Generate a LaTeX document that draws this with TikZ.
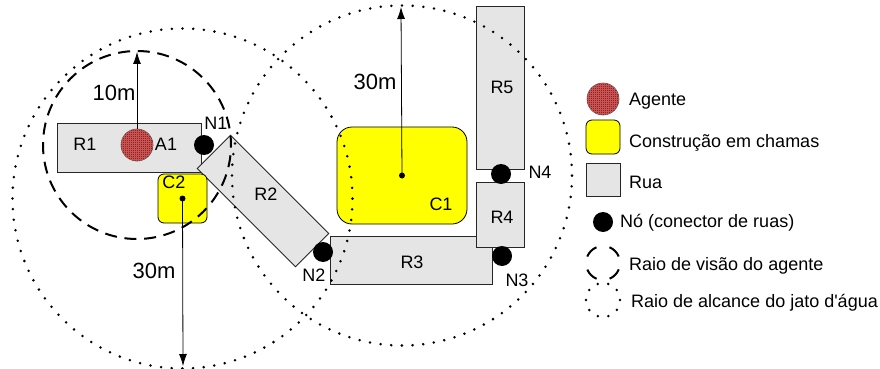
\documentclass[tikz,border=0pt]{standalone}
\usepackage{fontspec}
\setmainfont{Liberation Sans}
\usetikzlibrary{arrows.meta,patterns.meta}
\definecolor{roadgray}{RGB}{229,229,229}
\definecolor{fireyellow}{RGB}{255,255,0}
\definecolor{agentred}{RGB}{155,30,30}
\definecolor{agentgrid}{RGB}{195,85,85}
\begin{document}
\begin{tikzpicture}[x=1pt,y=-1pt,
 road/.style={draw=black!85, fill=roadgray, line width=0.8pt, rectangle, inner sep=0pt},
 fire/.style={draw=black, fill=fireyellow, line width=0.8pt, rectangle, rounded corners=#1, inner sep=0pt},
 fire/.default=6pt,
 junction/.style={circle, fill=black, inner sep=0pt, minimum size=20pt},
 agent/.style={circle, draw=black!70, line width=0.6pt, fill=agentred, postaction={pattern={Hatch[angle=0, distance=2pt, line width=0.4pt]}, pattern color=agentgrid}, minimum size=32pt, inner sep=0pt},
 lbl/.style={font=\fontsize{18}{20}\selectfont, inner sep=0pt, text height=12.9pt, text depth=0pt},
 dist/.style={font=\fontsize{22}{24}\selectfont, inner sep=0pt, text height=15.75pt, text depth=0pt},
 jetrange/.style={line width=2.8pt, dash pattern=on 0pt off 10.681pt, line cap=round},
 vision/.style={line width=2pt, dash pattern=on 12pt off 7.7pt},
 radiusarrow/.style={line width=0.8pt, -{Latex[length=12pt,width=8pt]}},
 centredot/.style={circle, fill=black, inner sep=0pt, minimum size=6pt}
]
\useasboundingbox (0,0) rectangle (880,369);

% roads
\node[road, minimum width=144pt, minimum height=49pt] (R1) at (129,147.5) {};
\node[road, minimum width=139pt, minimum height=47pt, rotate=-45] (R2) at (263,201) {};
\node[road, minimum width=162pt, minimum height=48pt] (R3) at (411,260) {};
\node[road, minimum width=48pt, minimum height=65pt] (R4) at (500,214.5) {};
\node[road, minimum width=48pt, minimum height=163pt] (R5) at (500,87.5) {};

% buildings on fire
\node[fire, minimum width=49pt, minimum height=49pt] (C2) at (182.5,198.5) {};
\node[fire=15pt, minimum width=130pt, minimum height=97pt] (C1) at (402,175.5) {};

% agent
\node[agent] (A1) at (137,145) {};

% junctions
\node[junction] (N1) at (204,145) {};
\node[junction] (N2) at (323,252) {};
\node[junction] (N3) at (502,256) {};
\node[junction] (N4) at (501,174) {};

% labels
\node[lbl] (lR1) at (85,144) {R1};
\node[lbl] (lA1) at (166,144) {A1};
\node[lbl] (lR2) at (266,194) {R2};
\node[lbl] (lR3) at (412,262) {R3};
\node[lbl] (lR4) at (502,217) {R4};
\node[lbl] (lR5) at (502,87) {R5};
\node[lbl] (lC1) at (441,204) {C1};
\node[lbl] (lC2) at (174,182) {C2};
\node[lbl] (lN1) at (216,123) {N1};
\node[lbl] (lN2) at (314,275) {N2};
\node[lbl] (lN3) at (517,280) {N3};
\node[lbl] (lN4) at (540,172) {N4};

% radius circles
\draw[vision, dash phase=3pt] (A1) circle[radius=94pt];
\draw[jetrange] (C2) circle[radius=170pt];
\draw[jetrange] (C1) circle[radius=170pt];

% radius arrows
\node[centredot] (c1dot) at (C1) {};
\node[centredot] (c2dot) at (C2) {};
\coordinate (visTop) at (137,52);
\coordinate (c1Top) at (401,7);
\coordinate (c2Bottom) at (183,366);
\draw[radiusarrow] (A1.north) -- (visTop);
\draw[radiusarrow] (c1dot.center) -- (c1Top);
\draw[radiusarrow] (c2dot.center) -- (c2Bottom);
\node[dist] (d10) at (114,93) {10m};
\node[dist] (d30a) at (375,82) {30m};
\node[dist] (d30b) at (154,271) {30m};

% legend
\node[agent] (kA) at (603,99) {};
\node[fire, minimum width=34pt, minimum height=34pt] (kC) at (603,137) {};
\node[road, minimum width=34pt, minimum height=33pt] (kR) at (603,179.5) {};
\node[junction] (kN) at (603,222) {};
\draw[line width=2pt, dash pattern=on 13.35pt off 13.35pt, dash phase=20pt] (603,263) circle[radius=17pt];
\draw[line width=2.8pt, dash pattern=on 0pt off 10.68pt, line cap=round] (603,300) circle[radius=17pt];
\node[lbl, anchor=west] (tA) at (629,99) {Agente};
\node[lbl, anchor=west] (tC) at (629,141) {Construção em chamas};
\node[lbl, anchor=west] (tR) at (629,182) {Rua};
\node[lbl, anchor=west] (tN) at (620,221) {Nó (conector de ruas)};
\node[lbl, anchor=west] (tV) at (629,264) {Raio de visão do agente};
\node[lbl, anchor=west] (tJ) at (631,301) {Raio de alcance do jato d\textquotesingle água};
\end{tikzpicture}
\end{document}
